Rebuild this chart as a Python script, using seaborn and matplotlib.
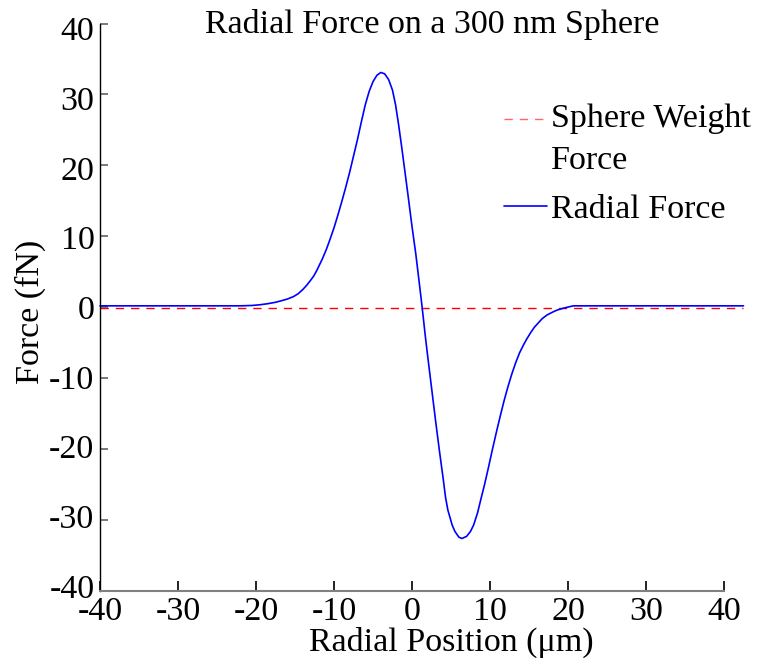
import numpy as np
import pandas as pd
import matplotlib
matplotlib.use("Agg")
import matplotlib.pyplot as plt
import seaborn as sns
from matplotlib.lines import Line2D
from matplotlib.legend_handler import HandlerLine2D
from matplotlib.transforms import Affine2D, ScaledTranslation

# ---- data ----
radial_x = [-40, -30, -22, -20.5, -19.5, -18.5, -17.5, -16.8, -16, -15.2, -14.6,
            -14, -13.5, -13, -12.6, -12.2, -11.5, -11, -10.5, -10, -9.5, -9,
            -8.5, -8, -7.5, -7, -6.5, -6, -5.5, -5, -4.5, -4, -3.5, -3, -2.5,
            -2.1, -1.7, -1.3, -1, -0.5, 0, 0.5, 1, 1.3, 1.72, 2, 2.5, 3, 3.5,
            4, 4.3, 4.6, 5.15, 5.5, 6, 6.4, 7, 7.5, 7.9, 8.4, 8.8, 9.3, 9.8,
            10.3, 10.8, 11.3, 11.8, 12.3, 12.8, 13.3, 13.8, 14.3, 14.7, 15.2,
            15.7, 16.2, 16.7, 17.3, 18, 18.6, 19.2, 19.9, 20.7, 30, 42.5]
radial_force = [0.2, 0.2, 0.2, 0.25, 0.35, 0.5, 0.7, 0.9, 1.15, 1.5, 1.9, 2.5,
                3.1, 3.8, 4.4, 5.2, 6.8, 8.1, 9.6, 11.2, 13.0, 14.9, 16.9, 19.0,
                21.3, 23.6, 26.1, 28.5, 30.4, 31.8, 32.7, 33.1, 32.9, 32.1, 30.6,
                28.5, 25.6, 22.4, 19.9, 15.7, 11.4, 7.4, 2.8, 0, -4.2, -6.8,
                -11.3, -15.8, -20.1, -24.2, -26.8, -28.6, -30.7, -31.6, -32.4,
                -32.6, -32.3, -31.6, -30.7, -29.0, -27.2, -25.0, -22.6, -20.1,
                -17.7, -15.4, -13.2, -11.2, -9.4, -7.8, -6.4, -5.3, -4.5, -3.6,
                -2.8, -2.2, -1.6, -1.1, -0.7, -0.4, -0.2, 0.0, 0.2, 0.2, 0.2]
weight_x = [-40, 42.5]
weight_force = [-0.1, -0.1]

title = "Radial Force on a 300 nm Sphere"
xlabel = "Radial Position (\u03bcm)"
ylabel = "Force (fN)"
xticks = [-40, -30, -20, -10, 0, 10, 20, 30, 40]
yticks = [-40, -30, -20, -10, 0, 10, 20, 30, 40]
legend_labels = ["Sphere Weight\nForce", "Radial Force"]

sns.set_style("white")
plt.rcParams['font.family'] = ['Liberation Serif', 'DejaVu Serif']
plt.rcParams.update({
    'text.color': 'black',
    'xtick.color': 'black',
    'ytick.color': 'black',
    'xtick.bottom': True,
    'ytick.left': True,
    'xtick.direction': 'in',
    'ytick.direction': 'in',
    'xtick.major.size': 7,
    'ytick.major.size': 6,
    'xtick.major.width': 1.3,
    'ytick.major.width': 1.3,
})

FS = 24.5

fig = plt.figure(figsize=(7.57, 6.58), dpi=100)
ax = fig.add_axes([100/757, 1 - 591/658, 624/757, (591 - 23.5)/658])

df_r = pd.DataFrame({"x": radial_x, "y": radial_force})
df_w = pd.DataFrame({"x": weight_x, "y": weight_force})

sns.lineplot(data=df_w, x="x", y="y", ax=ax, color="red", lw=1.0,
             linestyle=(0, (6, 5)), sort=False, estimator=None)
sns.lineplot(data=df_r, x="x", y="y", ax=ax, color="blue", lw=1.2,
             sort=False, estimator=None)
for ln in ax.lines:
    ln.set_clip_on(False)

ax.set_xlim(-40, 40)
ax.set_ylim(-40, 40)
ax.set_xticks(xticks)
ax.set_yticks(yticks)
ax.set_xticklabels([str(t) for t in xticks], fontsize=FS)
ax.set_yticklabels([str(t) for t in yticks], fontsize=FS)
ax.tick_params(axis='y', which='major', left=True, right=False,
               direction='in', length=6, width=1.3, color='#6e6e6e',
               labelcolor='black', pad=4)
ax.tick_params(axis='x', which='major', bottom=True, top=False,
               direction='in', length=7, width=1.3, color='#111111',
               labelcolor='black', pad=4)
for t in ax.xaxis.get_major_ticks() + ax.yaxis.get_major_ticks():
    t.tick1line.set_visible(True)
    t.tick1line.set_zorder(5)

# the reference's y labels drift slightly toward the middle
for val, lab in zip(yticks, ax.get_yticklabels()):
    dy = -0.12 * val / 100.0
    lab.set_transform(lab.get_transform() +
                      ScaledTranslation(0, dy, fig.dpi_scale_trans))

for s in ['top', 'right']:
    ax.spines[s].set_visible(False)
ax.spines['left'].set_color('black')
ax.spines['left'].set_linewidth(1.0)
ax.spines['bottom'].set_color('#808080')
ax.spines['bottom'].set_linewidth(1.5)

ax.set_xlabel("")
ax.set_ylabel("")
fig.text(451/757, 1 - 642/658, xlabel, ha='center', va='center', fontsize=FS)
fig.text(30/757, 1 - 312/658, ylabel, ha='center', va='center', fontsize=FS,
         rotation=90)
fig.text(432/757, 1 - 24/658, title, ha='center', va='center', fontsize=FS)


class HandlerTop(HandlerLine2D):
    """Place the handle next to the first line of a two-line label."""
    def __init__(self, dy, **kw):
        super().__init__(**kw)
        self.dy = dy

    def create_artists(self, legend, orig_handle, xdescent, ydescent, width,
                       height, fontsize, trans):
        t = Affine2D().translate(0, self.dy) + trans
        return super().create_artists(legend, orig_handle, xdescent, ydescent,
                                      width, height, fontsize, t)


h_weight = Line2D([], [], color='red', lw=1.0, linestyle=(0, (6, 5)), alpha=0.6)
h_radial = Line2D([], [], color='blue', lw=1.2)
leg = ax.legend([h_weight, h_radial], legend_labels, frameon=False, fontsize=FS,
                loc='upper left', bbox_to_anchor=(504/757, 1 - 104/658),
                bbox_transform=fig.transFigure, handlelength=1.25,
                handletextpad=0.14, labelspacing=0.55, borderpad=0,
                borderaxespad=0,
                handler_map={h_weight: HandlerTop(dy=15)})
for t in leg.get_texts():
    t.set_linespacing(1.45)

fig.savefig("out.png", dpi=100)
